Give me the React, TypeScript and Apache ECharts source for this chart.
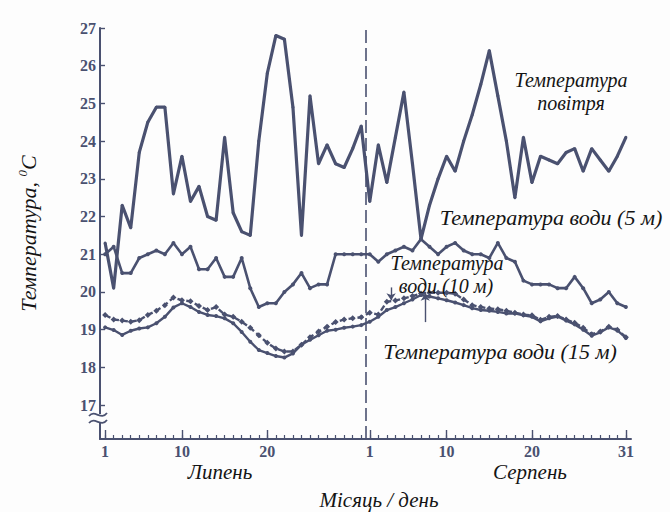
import React, { useEffect, useRef } from "react";
import * as echarts from "echarts";

// Day index: 1..31 = July 1..31, 32..62 = August 1..31
const days = [
  1, 2, 3, 4, 5, 6, 7, 8, 9, 10, 11, 12, 13, 14, 15, 16, 17, 18, 19, 20, 21, 22, 23, 24, 25, 26, 27, 28, 29, 30, 31,
  32, 33, 34, 35, 36, 37, 38, 39, 40, 41, 42, 43, 44, 45, 46, 47, 48, 49, 50, 51, 52, 53, 54, 55, 56, 57, 58, 59, 60, 61, 62,
];

const airTemp = [
  21.3, 20.1, 22.3, 21.7, 23.7, 24.5, 24.9, 24.9, 22.6, 23.6, 22.4, 22.8, 22.0, 21.9, 24.1, 22.1, 21.6, 21.5, 24.0, 25.8,
  26.8, 26.7, 24.9, 21.5, 25.2, 23.4, 23.9, 23.4, 23.3, 23.8, 24.4,
  22.4, 23.9, 22.9, 24.1, 25.3, 23.4, 21.4, 22.3, 23.0, 23.6, 23.2, 24.0, 24.7, 25.5, 26.4, 25.2, 24.0, 22.5, 24.1,
  22.9, 23.6, 23.5, 23.4, 23.7, 23.8, 23.2, 23.8, 23.5, 23.2, 23.6, 24.1,
];

const water5 = [
  21.0, 21.2, 20.5, 20.5, 20.9, 21.0, 21.1, 21.0, 21.3, 21.0, 21.2, 20.6, 20.6, 20.9, 20.4, 20.4, 20.9, 20.1, 19.6, 19.7,
  19.7, 20.0, 20.2, 20.5, 20.1, 20.2, 20.2, 21.0, 21.0, 21.0, 21.0,
  21.0, 20.8, 21.0, 21.1, 21.2, 21.1, 21.4, 21.2, 21.0, 21.2, 21.3, 21.1, 21.0, 21.0, 20.9, 21.3, 20.9, 20.8, 20.3,
  20.2, 20.2, 20.2, 20.1, 20.1, 20.4, 20.1, 19.7, 19.8, 20.0, 19.7, 19.6,
];

const water10 = [
  19.39, 19.27, 19.24, 19.21, 19.25, 19.39, 19.5, 19.65, 19.85, 19.78, 19.75, 19.63, 19.52, 19.6, 19.4, 19.34, 19.21,
  19.05, 18.85, 18.65, 18.5, 18.42, 18.42, 18.6, 18.8, 18.95, 19.08, 19.2, 19.27, 19.3, 19.33,
  19.45, 19.4, 19.74, 19.77, 19.83, 19.89, 19.96, 19.98, 19.98, 19.98, 19.95, 19.8, 19.65, 19.6, 19.56, 19.54, 19.5,
  19.45, 19.4, 19.38, 19.26, 19.34, 19.36, 19.27, 19.18, 19.05, 18.88, 18.95, 19.08, 19.0, 18.8,
];

const water15 = [
  19.06, 18.99, 18.86, 18.97, 19.03, 19.06, 19.17, 19.34, 19.59, 19.7, 19.6, 19.47, 19.39, 19.36, 19.3, 19.17, 18.94,
  18.68, 18.46, 18.38, 18.3, 18.26, 18.37, 18.6, 18.73, 18.85, 18.97, 19.0, 19.05, 19.08, 19.12,
  19.21, 19.34, 19.52, 19.6, 19.7, 19.8, 19.92, 19.88, 19.83, 19.78, 19.72, 19.65, 19.57, 19.52, 19.5, 19.47, 19.43,
  19.43, 19.38, 19.34, 19.22, 19.3, 19.35, 19.24, 19.14, 19.0, 18.84, 18.93, 19.06, 18.98, 18.78,
];

const majorTickDays = [1, 10, 20, 32, 41, 51, 62];
const majorTickLabels = ["1", "10", "20", "1", "10", "20", "31"];
const yTickValues = [17, 18, 19, 20, 21, 22, 23, 24, 25, 26, 27];
const monthBoundary = 31.55;
const arrow10 = { day: 34.5, from: 20.12, to: 19.78 };
const arrow15 = { day: 38.5, from: 19.2, to: 19.95 };

const INK = "#4a5170";
const TEXT = "#141414";
const SERIF = "Liberation Serif";

export default function App() {
  const ref = useRef<HTMLDivElement>(null);

  useEffect(() => {
    if (!ref.current) return;
    const chart = echarts.init(ref.current, undefined, { renderer: "svg" });
    const pair = (vals: number[]) => days.map((d, i) => [d, vals[i]]);
    const italic = (size: number) => ({
      fontFamily: SERIF,
      fontStyle: "italic",
      fontSize: size,
      fill: TEXT,
      textAlign: "center",
      textVerticalAlign: "middle",
    });

    chart.setOption({
      animation: false,
      backgroundColor: "#fdfdfd",
      grid: { left: 100, right: 39, top: 28, bottom: 73 },
      xAxis: [
        {
          type: "value",
          min: 0.4,
          max: 62.6,
          position: "bottom",
          axisLine: { show: true, lineStyle: { color: INK, width: 2 } },
          axisTick: { show: true, inside: true, length: 4, customValues: days, lineStyle: { color: INK, width: 1.2 } },
          axisLabel: {
            customValues: majorTickDays,
            formatter: (v: number) => {
              const idx = majorTickDays.indexOf(Math.round(v));
              return idx >= 0 ? majorTickLabels[idx] : "";
            },
            color: INK,
            fontFamily: SERIF,
            fontWeight: "bold",
            fontSize: 16,
            margin: 4,
          },
          splitLine: { show: false },
        },
        {
          type: "value",
          min: 0.4,
          max: 62.6,
          position: "bottom",
          axisLine: { show: false },
          axisTick: { show: true, inside: true, length: 9, customValues: majorTickDays, lineStyle: { color: INK, width: 1.4 } },
          axisLabel: { show: false },
          splitLine: { show: false },
        },
      ],
      yAxis: {
        type: "value",
        min: 16.1,
        max: 27,
        axisLine: { show: true, lineStyle: { color: INK, width: 2 } },
        axisTick: { show: true, inside: true, length: 5, customValues: yTickValues, lineStyle: { color: INK, width: 1.4 } },
        axisLabel: {
          customValues: yTickValues,
          color: INK,
          fontFamily: SERIF,
          fontWeight: "bold",
          fontSize: 16,
          margin: 4,
        },
        splitLine: { show: false },
        name: "Температура, {sup|0}{c|C}",
        nameLocation: "middle",
        nameGap: 60,
        nameRotate: 90,
        nameTextStyle: {
          fontFamily: SERIF,
          fontStyle: "italic",
          fontSize: 22,
          color: TEXT,
          rich: {
            sup: { fontFamily: SERIF, fontStyle: "italic", fontSize: 13, color: TEXT, verticalAlign: "top", lineHeight: 24 },
            c: { fontFamily: SERIF, fontStyle: "italic", fontSize: 22, color: TEXT, lineHeight: 24 },
          },
        },
      },
      series: [
        {
          name: "Температура повітря",
          type: "line",
          data: pair(airTemp),
          symbol: "circle",
          symbolSize: 3,
          lineStyle: { color: INK, width: 3.2 },
          itemStyle: { color: INK },
          markLine: {
            silent: true,
            symbol: "none",
            label: { show: false },
            lineStyle: { color: INK, width: 1.6, type: [13, 5] },
            data: [{ xAxis: monthBoundary }],
          },
        },
        {
          name: "Температура води (5 м)",
          type: "line",
          data: pair(water5),
          symbol: "circle",
          symbolSize: 4,
          lineStyle: { color: INK, width: 2.6 },
          itemStyle: { color: INK },
        },
        {
          name: "Температура води (10 м)",
          type: "line",
          data: pair(water10),
          symbol: "diamond",
          symbolSize: 6,
          lineStyle: { color: INK, width: 2.4, type: [6, 3] },
          itemStyle: { color: INK },
          markLine: {
            silent: true,
            symbol: ["none", "arrow"],
            symbolSize: 7,
            label: { show: false },
            lineStyle: { color: INK, width: 1.4, type: "solid" },
            data: [[{ coord: [arrow10.day, arrow10.from] }, { coord: [arrow10.day, arrow10.to] }]],
          },
        },
        {
          name: "Температура води (15 м)",
          type: "line",
          data: pair(water15),
          symbol: "circle",
          symbolSize: 4,
          lineStyle: { color: INK, width: 2.4 },
          itemStyle: { color: INK },
          markLine: {
            silent: true,
            symbol: ["none", "arrow"],
            symbolSize: 7,
            label: { show: false },
            lineStyle: { color: INK, width: 1.4, type: "solid" },
            data: [[{ coord: [arrow15.day, arrow15.from] }, { coord: [arrow15.day, arrow15.to] }]],
          },
        },
      ],
      graphic: [
        { type: "rect", shape: { x: 94, y: 414, width: 12, height: 9 }, style: { fill: "#fdfdfd" }, z: 100 },
        {
          type: "bezierCurve",
          shape: { x1: 89, y1: 416, x2: 107, y2: 413, cpx1: 95, cpy1: 409, cpx2: 101, cpy2: 421 },
          style: { stroke: INK, lineWidth: 1.8, fill: "none" },
          z: 101,
        },
        {
          type: "bezierCurve",
          shape: { x1: 89, y1: 423, x2: 107, y2: 420, cpx1: 95, cpy1: 416, cpx2: 101, cpy2: 428 },
          style: { stroke: INK, lineWidth: 1.8, fill: "none" },
          z: 101,
        },
        { type: "text", x: 571, y: 80, style: { text: "Температура", ...italic(20) }, z: 50 },
        { type: "text", x: 571, y: 103, style: { text: "повітря", ...italic(20) }, z: 50 },
        { type: "text", x: 551, y: 217, style: { text: "Температура води (5 м)", ...italic(22) }, z: 50 },
        { type: "text", x: 447, y: 263, style: { text: "Температура", ...italic(20) }, z: 50 },
        { type: "text", x: 446, y: 286, style: { text: "води (10 м)", ...italic(20) }, z: 50 },
        { type: "text", x: 500, y: 351, style: { text: "Температура води (15 м)", ...italic(22) }, z: 50 },
        { type: "text", x: 220, y: 472, style: { text: "Липень", ...italic(21) }, z: 50 },
        { type: "text", x: 530, y: 472, style: { text: "Серпень", ...italic(21) }, z: 50 },
        { type: "text", x: 379, y: 500, style: { text: "Місяць / день", ...italic(21) }, z: 50 },
      ],
    });

    return () => chart.dispose();
  }, []);

  return <div ref={ref} style={{ position: "fixed", left: 0, top: 0, width: 670, height: 512 }} />;
}
